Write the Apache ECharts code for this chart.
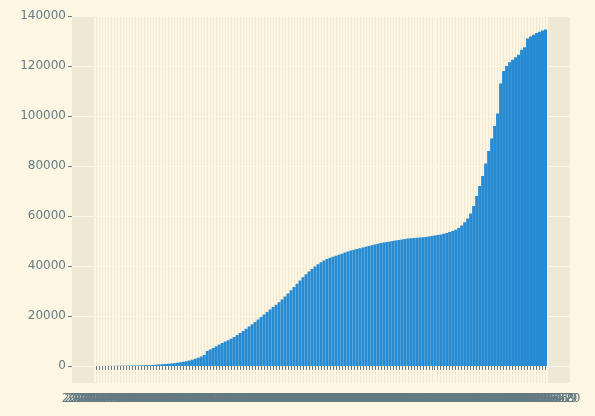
<!DOCTYPE html>
<html lang="en">
<head>
  <meta charset="UTF-8">
  <title>Cumulative</title>
  <script src="https://fastly.jsdelivr.net/npm/echarts@6.0.0/dist/echarts.min.js"></script>
  <style>html,body{margin:0;background:#fdf6e3;}</style>
</head>
<body>
<div id="chart" style="width:595px;height:416px;"></div>
<script>
  var values = [0,10,20,30,40,50,60,80,100,120,140,160,180,200,230,260,290,320,350,
    420,500,600,700,800,900,1000,
    1150,1300,1500,1700,1900,2200,2500,2900,3300,3800,4400,
    6000,6600,7200,7900,8600,9200,9800,10300,10900,
    11600,12400,13200,14000,14900,15800,16700,17600,18600,19600,20600,21600,
    22600,23600,24500,25500,26600,27800,29000,30300,31600,32900,34200,35500,36700,37800,38800,
    39800,40700,41500,42200,42800,43300,43700,44100,
    44500,44900,45400,45800,46200,46500,46800,47100,47400,47700,48000,48300,48600,48900,49200,
    49400,49600,49800,50000,50200,50400,50600,50800,51000,51100,51200,51300,51400,51500,51600,51800,52000,52200,52400,52600,
    52900,53200,53600,54000,54500,55200,56200,
    57500,59000,61000,64000,68000,72000,76000,81000,86000,91000,
    96000,101000,113000,118000,
    120000,121500,122500,123500,124500,126500,127500,131000,131800,132500,133200,133700,134200,134600];
  var yTicks = [0, 20000, 40000, 60000, 80000, 100000, 120000, 140000];
  var dates = [];
  var start = new Date(Date.UTC(2020, 0, 22));
  for (var i = 0; i < values.length; i++) {
    var d = new Date(start.getTime() + i * 86400000);
    dates.push(d.toISOString().slice(0, 10));
  }

  var yRange = { min: -6800, max: 140000 };
  var chart = echarts.init(document.getElementById('chart'));
  chart.setOption({
    backgroundColor: '#fdf6e3',
    animation: false,
    grid: [
      { left: 72, right: 25, top: 16, bottom: 33, show: true, backgroundColor: '#eee8d5', borderWidth: 0 },
      { left: 95, right: 48, top: 16, bottom: 33 }
    ],
    xAxis: [
      { gridIndex: 0, type: 'value', min: 0, max: 1, show: false },
      {
        gridIndex: 1,
        type: 'category',
        data: dates,
        axisLine: { show: false },
        axisTick: { show: true, interval: 0, alignWithLabel: true, length: 4, lineStyle: { color: '#657b83' } },
        axisLabel: { interval: 0, hideOverlap: false, color: '#657b83', fontSize: 12, fontFamily: 'DejaVu Sans', margin: 10 },
        splitLine: { show: true, interval: 0, lineStyle: { color: '#fdf6e3', width: 2 } }
      }
    ],
    yAxis: [
      {
        gridIndex: 0, type: 'value', min: yRange.min, max: yRange.max,
        axisLine: { show: false },
        axisTick: { show: true, customValues: yTicks, length: 4, lineStyle: { color: '#657b83' } },
        axisLabel: { customValues: yTicks, color: '#657b83', fontSize: 12, fontFamily: 'DejaVu Sans', margin: 6,
          formatter: function (v) { return String(v); } },
        splitLine: { show: false }
      },
      { gridIndex: 1, type: 'value', min: yRange.min, max: yRange.max, show: false }
    ],
    series: [
      {
        type: 'line', data: [], z: 0, xAxisIndex: 0, yAxisIndex: 0,
        markLine: {
          silent: true, symbol: 'none', label: { show: false }, z: 0,
          lineStyle: { color: '#fdf6e3', type: 'solid', width: 1.2 },
          data: yTicks.map(function (v) { return { yAxis: v }; })
        }
      },
      {
        type: 'bar', data: values, z: 5, xAxisIndex: 1, yAxisIndex: 1,
        barCategoryGap: '0%',
        itemStyle: { color: '#268bd2' }
      }
    ]
  });
</script>
</body>
</html>
